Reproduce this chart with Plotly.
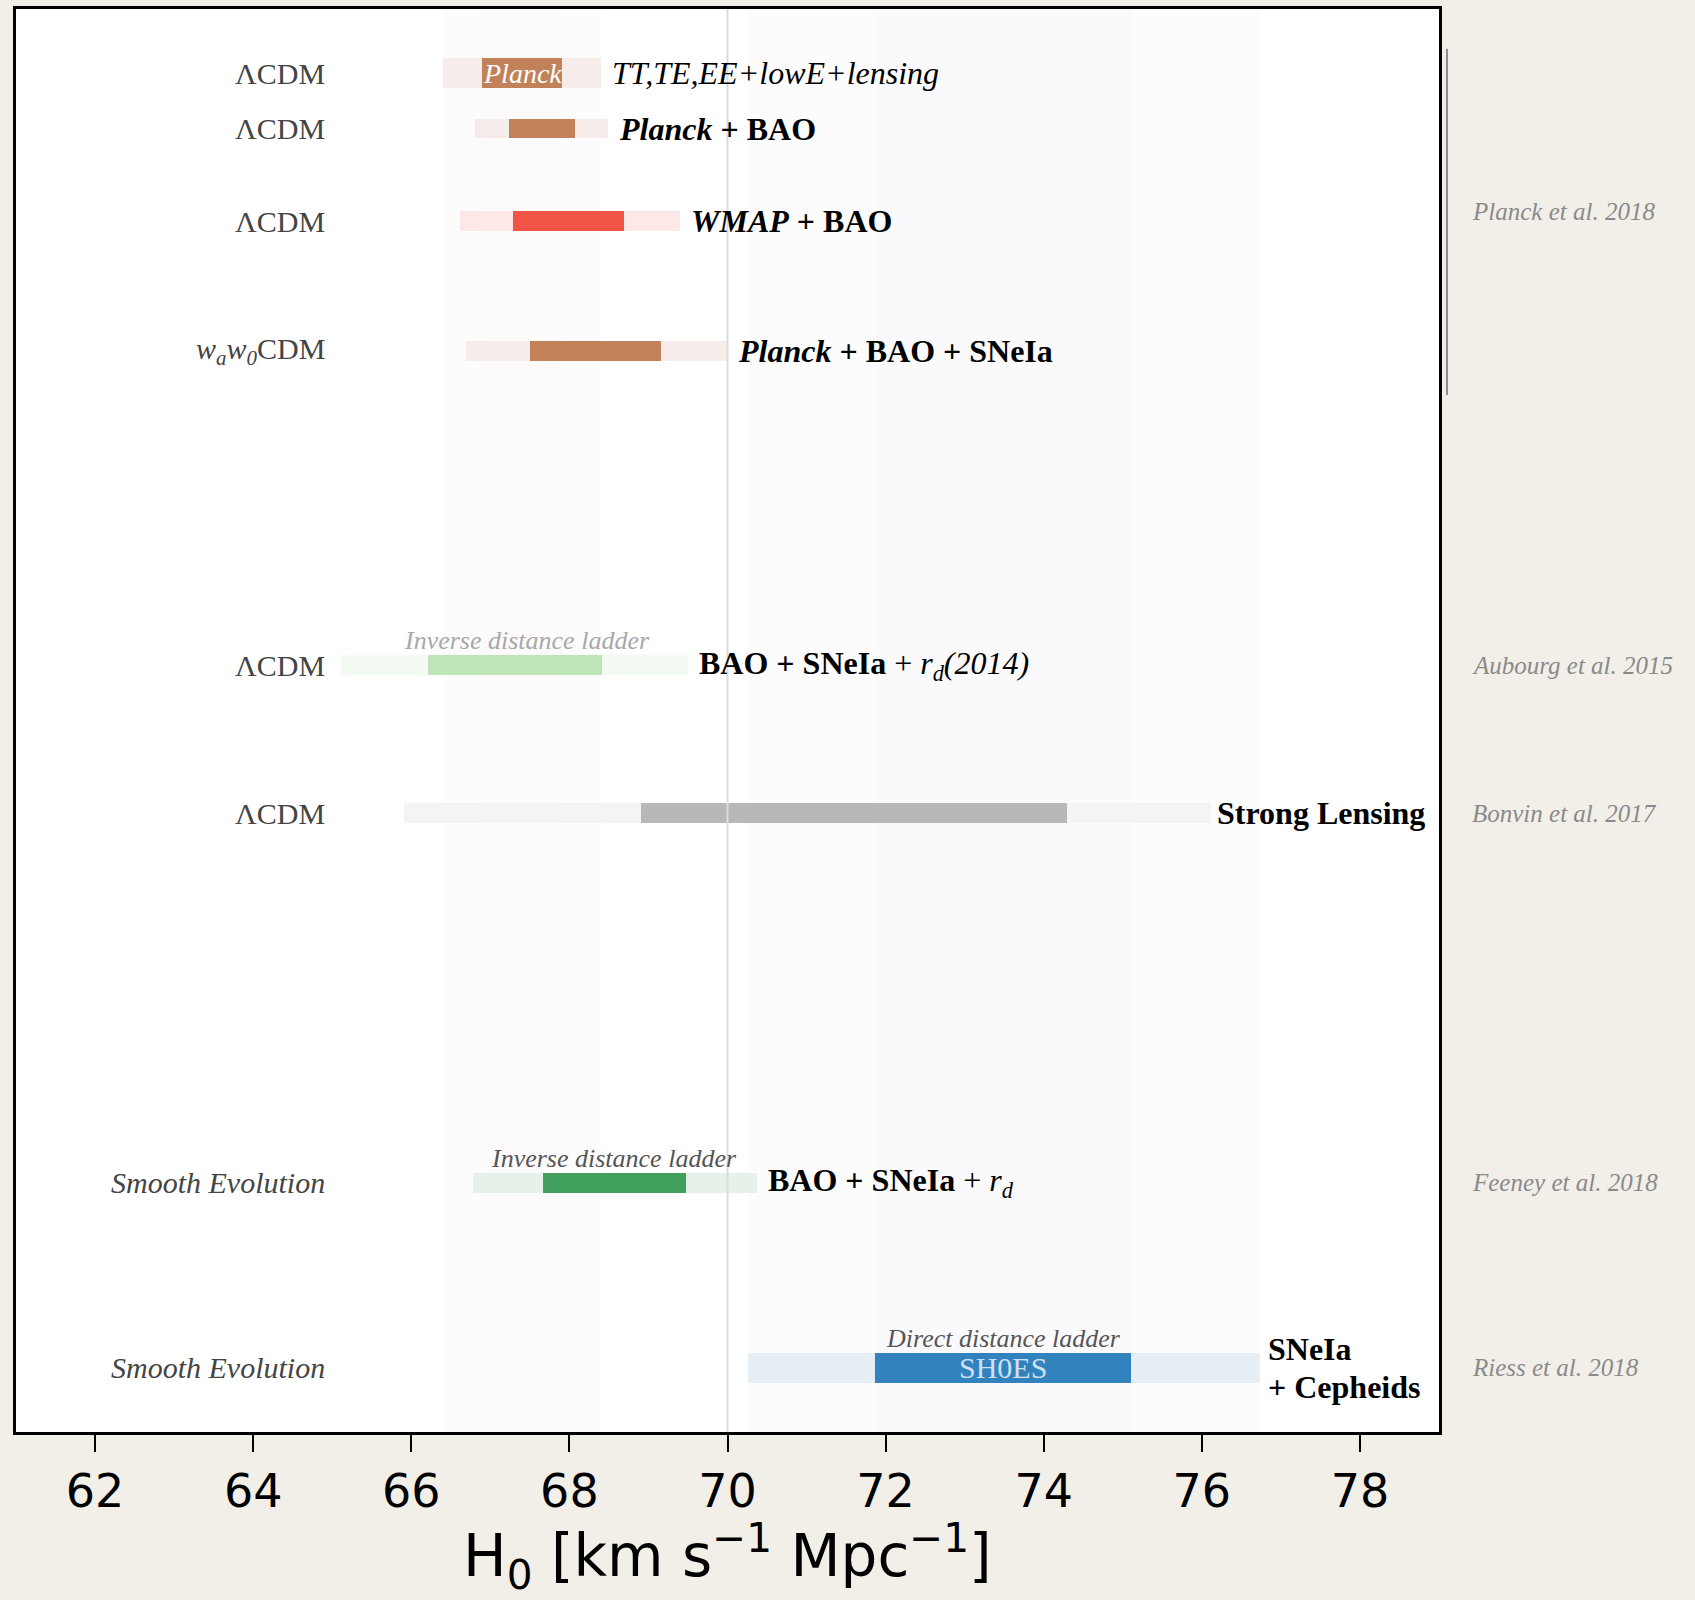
import plotly.graph_objects as go

# ---------------- data ----------------
models = ["ΛCDM", "ΛCDM", "ΛCDM", "<i>w<sub>a</sub>w<sub>0</sub></i>CDM",
          "ΛCDM", "ΛCDM", "<i>Smooth Evolution</i>", "<i>Smooth Evolution</i>"]
probes = ["<i>TT,TE,EE+lowE+lensing</i>",
          "<b><i>Planck</i> + BAO</b>",
          "<b><i>WMAP</i> + BAO</b>",
          "<b><i>Planck</i> + BAO + SNeIa</b>",
          "<b>BAO + SNeIa</b> + <i>r<sub>d</sub>(2014)</i>",
          "<b>Strong Lensing</b>",
          "<b>BAO + SNeIa</b> + <i>r<sub>d</sub></i>",
          "<b>SNeIa</b><br><b>+ Cepheids</b>"]
lo68 = [66.90, 67.23, 67.29, 67.50, 66.21, 68.91, 67.67, 71.87]
hi68 = [67.91, 68.07, 68.69, 69.16, 68.41, 74.30, 69.47, 75.11]
lo95 = [66.40, 66.81, 66.61, 66.69, 65.11, 65.91, 66.78, 70.26]
hi95 = [68.40, 68.49, 69.40, 69.99, 69.50, 76.12, 70.37, 76.73]
inbar_text = ["<i>Planck</i>", "", "", "", "", "", "", "SH0ES"]
above_text = ["", "", "", "", "<i>Inverse distance ladder</i>", "",
              "<i>Inverse distance ladder</i>", "<i>Direct distance ladder</i>"]
refs = ["Planck et al. 2018", "Aubourg et al. 2015", "Bonvin et al. 2017",
        "Feeney et al. 2018", "Riess et al. 2018"]
ref_rows = [[0, 1, 2, 3], [4], [5], [6], [7]]
ref_h0 = 70
x_ticks = [62, 64, 66, 68, 70, 72, 74, 76, 78]
x_title = "H<sub>0</sub> [km s<sup>−1</sup> Mpc<sup>−1</sup>]"

# ---------------- layout / style ----------------
rows = [4.50, 8.41, 14.90, 24.03, 46.10, 56.50, 82.50, 95.50]
thick = [True, False, False, False, False, False, False, True]
widths = [2.05 if t else 1.37 for t in thick]
dark = ["#c1825a", "#c1825a", "#f05548", "#c1825a", "#bfe4b9", "#b8b8b8", "#41a05e", "#3182bd"]
light = ["#f6ece9", "#f6ece9", "#fde8e7", "#f6ece9", "#f4fbf3", "#f4f4f4", "#e6f2e9", "#e6eef6"]
above_col = ["#555", "#555", "#555", "#555", "#a8a8a8", "#555", "#555", "#555"]
above_dx = [0, 0, 0, 0, 0.16, 0, 0, 0]
inbar_col = ["#ffffff"] * 7 + ["#cfe0f0"]
SERIF = "Liberation Serif"
LINE_GAP = 38  # px between stacked label lines
W, H = 1695, 1600
M = dict(l=16, r=256, t=9, b=168)

fig = go.Figure()
fig.add_trace(go.Bar(orientation="h", y=rows, base=lo95,
                     x=[h - l for l, h in zip(lo95, hi95)], width=widths,
                     marker=dict(color=light, line=dict(width=0)),
                     hoverinfo="skip", showlegend=False))
fig.add_trace(go.Bar(orientation="h", y=rows, base=lo68,
                     x=[h - l for l, h in zip(lo68, hi68)], width=widths,
                     marker=dict(color=dark, line=dict(width=0)),
                     hoverinfo="skip", showlegend=False))

shapes = []
# very faint vertical bands (Planck & SH0ES)
for i, (c95, c68) in [(0, ("#fdfcfc", "#fcfafb")), (7, ("#fcfcfd", "#fafafd"))]:
    shapes.append(dict(type="rect", xref="x", yref="paper", x0=lo95[i], x1=hi95[i],
                       y0=0, y1=1, fillcolor=c95, line=dict(width=0), layer="below"))
    shapes.append(dict(type="rect", xref="x", yref="paper", x0=lo68[i], x1=hi68[i],
                       y0=0, y1=1, fillcolor=c68, line=dict(width=0), layer="below"))
shapes.append(dict(type="line", xref="x", yref="paper", x0=ref_h0, x1=ref_h0, y0=0, y1=1,
                   line=dict(color="#dcdcdc", width=2), layer="above"))

ann = []
label_x = 64.94
for i, y in enumerate(rows):
    ann.append(dict(x=label_x, y=y, text=models[i], xanchor="right", yanchor="middle",
                    showarrow=False, font=dict(family=SERIF, size=30, color="#444")))
    lines = probes[i].split("<br>")
    n = len(lines)
    for k, line in enumerate(lines):
        ysh = ((n - 1) / 2 - k) * LINE_GAP
        if i == 5:
            ann.append(dict(x=1, xref="paper", y=y, text=line, xanchor="right",
                            yanchor="middle", xshift=-12, yshift=ysh, showarrow=False,
                            font=dict(family=SERIF, size=32, color="#000")))
        else:
            ann.append(dict(x=hi95[i], y=y, text=line, xanchor="left", yanchor="middle",
                            xshift=6 if n > 1 else 9, yshift=ysh, showarrow=False,
                            align="left", font=dict(family=SERIF, size=32, color="#000")))
    if inbar_text[i]:
        ann.append(dict(x=(lo68[i] + hi68[i]) / 2, y=y, text=inbar_text[i],
                        showarrow=False, yanchor="middle",
                        font=dict(family=SERIF, size=28 if i == 0 else 30, color=inbar_col[i])))
    if above_text[i]:
        ann.append(dict(x=(lo68[i] + hi68[i]) / 2 + above_dx[i], y=y - widths[i] / 2,
                        text=above_text[i], showarrow=False, yanchor="bottom", yshift=-2,
                        font=dict(family=SERIF, size=26, color=above_col[i])))

pad_top, pad_bot = 1.7, 3.1
for name, rr in zip(refs, ref_rows):
    y0 = rows[rr[0]]
    y1 = rows[rr[-1]]
    if len(rr) > 1:
        shapes.append(dict(type="line", xref="paper", yref="y", x0=1.0056, x1=1.0056,
                           y0=y0 - pad_top, y1=y1 + pad_bot,
                           line=dict(color="#8c8c8c", width=2)))
    ann.append(dict(x=1.0217, xref="paper", y=(y0 + y1) / 2, text=f"<i>{name}</i>",
                    xanchor="left", yanchor="middle", showarrow=False,
                    font=dict(family=SERIF, size=25, color="#8a8a8a")))

# x-axis title as annotation, placed low like the reference
ann.append(dict(x=0.5, xref="paper", y=0, yref="paper", text=x_title,
                xanchor="center", yanchor="middle", yshift=-124, borderpad=0,
                showarrow=False,
                font=dict(family="DejaVu Sans", size=58, color="#000")))

fig.update_layout(
    template="none",
    width=W, height=H,
    margin=M,
    paper_bgcolor="#f2efe9", plot_bgcolor="#ffffff",
    barmode="overlay", bargap=0,
    annotations=ann, shapes=shapes,
    xaxis=dict(range=[61, 79], tickvals=x_ticks, ticks="outside", ticklen=17,
               tickwidth=2, tickcolor="#000", showgrid=False, zeroline=False,
               showline=True, mirror=True, linewidth=3, linecolor="#000",
               fixedrange=True,
               tickfont=dict(family="DejaVu Sans", size=46, color="#000")),
    yaxis=dict(range=[100, 0], showticklabels=False, ticks="", showgrid=False,
               zeroline=False, showline=True, mirror=True, linewidth=3,
               linecolor="#000", fixedrange=True),
)

fig.write_html("out.html")
